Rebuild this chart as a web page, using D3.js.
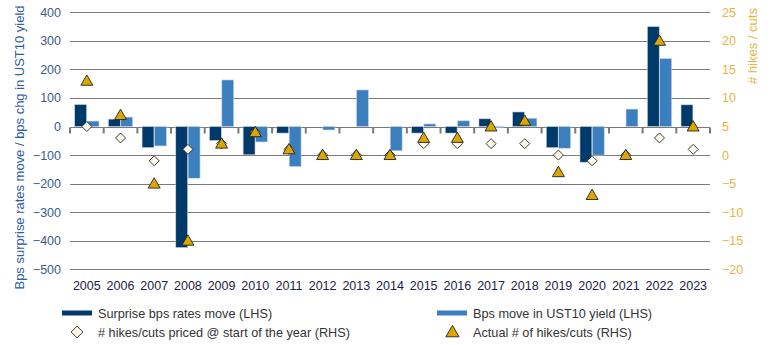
<!DOCTYPE html>
<html>
<head>
<meta charset="utf-8">
<script src="https://cdn.jsdelivr.net/npm/d3@7"></script>
<style>
  body { margin: 0; background: #fff; }
  text { font-family: "Liberation Sans", Arial, sans-serif; }
</style>
</head>
<body>
<svg id="chart"></svg>
<script>
const years = ["2005", "2006", "2007", "2008", "2009", "2010", "2011", "2012", "2013", "2014",
               "2015", "2016", "2017", "2018", "2019", "2020", "2021", "2022", "2023"];
// bps, left axis
const surprise = [77, 26, -74, -424, -49, -99, -23, 0, 0, 0, -23, -23, 27, 51, -74, -125, 0, 350, 76];
const ust10 = [19, 33, -68, -181, 163, -54, -140, -12, 128, -85, 9, 20, -3, 29, -76, -100, 61, 238, 0];
// number of hikes / cuts, right axis
const priced = [5, 3, -1, 1, 2, 4, 1, 0, 0, 0, 2, 2, 2, 2, 0, -1, 0, 3, 1];
const actual = [13, 7, -5, -15, 2, 4, 1, 0, 0, 0, 3, 3, 5, 6, -3, -7, 0, 20, 5];

const leftTicks = [400, 300, 200, 100, 0, -100, -200, -300, -400, -500];
const rightTicks = [25, 20, 15, 10, 5, 0, -5, -10, -15, -20];

const width = 770;
const height = 345;
const plotLeft = 70, plotRight = 710, plotTop = 12.3, plotBottom = 269.3;

const darkBlue = "#003a6a";
const lightBlue = "#3b7fbf";
const gold = "#dba700";
const gridColor = "#7a7a7a";

const svg = d3.select("#chart")
    .attr("width", width)
    .attr("height", height);

const x = d3.scaleBand()
    .domain(years)
    .range([plotLeft, plotRight])
    .paddingInner(0.25)
    .paddingOuter(0.125);
const x1 = d3.scaleBand()
    .domain(["surprise", "ust10"])
    .range([0, x.bandwidth()])
    .padding(0.04);
const yL = d3.scaleLinear().domain([-500, 400]).range([plotBottom, plotTop]);
const yR = d3.scaleLinear().domain([-20, 25]).range([plotBottom, plotTop]);

// gridlines
svg.append("g")
    .selectAll("line")
    .data(leftTicks)
    .enter()
    .append("line")
    .attr("x1", plotLeft)
    .attr("x2", plotRight)
    .attr("y1", d => Math.round(yL(d)) + 0.5)
    .attr("y2", d => Math.round(yL(d)) + 0.5)
    .attr("stroke", gridColor)
    .attr("stroke-width", 1);

// left axis labels
const yAxisL = d3.axisLeft(yL).tickValues(leftTicks).tickSize(0).tickPadding(0);
svg.append("g")
    .attr("transform", `translate(61,0)`)
    .call(yAxisL)
    .call(g => g.select(".domain").remove())
    .selectAll("text")
    .attr("fill", "#3d5a8c")
    .style("font-size", "12.5px")
    .style("font-family", "Liberation Sans, Arial, sans-serif");

// right axis labels
const yAxisR = d3.axisRight(yR).tickValues(rightTicks).tickSize(0).tickPadding(0);
svg.append("g")
    .attr("transform", `translate(722,0)`)
    .call(yAxisR)
    .call(g => g.select(".domain").remove())
    .selectAll("text")
    .attr("fill", "#e8b545")
    .style("font-size", "12.5px")
    .style("font-family", "Liberation Sans, Arial, sans-serif");

// axis titles
svg.append("text")
    .attr("transform", "translate(24,147.5) rotate(-90)")
    .attr("text-anchor", "middle")
    .attr("fill", "#2f5da3")
    .attr("textLength", 284)
    .attr("lengthAdjust", "spacingAndGlyphs")
    .style("font-size", "13px")
    .text("Bps surprise rates move / bps chg in UST10 yield");
svg.append("text")
    .attr("transform", "translate(757,46) rotate(-90)")
    .attr("text-anchor", "middle")
    .attr("fill", "#e8b545")
    .attr("textLength", 76)
    .attr("lengthAdjust", "spacingAndGlyphs")
    .style("font-size", "13px")
    .text("# hikes / cuts");

// bars
const bars = svg.append("g");
bars.selectAll(".surprise")
    .data(surprise)
    .enter()
    .append("rect")
    .attr("class", "surprise")
    .attr("x", (d, i) => x(years[i]) + x1("surprise"))
    .attr("y", d => yL(Math.max(0, d)))
    .attr("width", x1.bandwidth())
    .attr("height", d => Math.abs(yL(d) - yL(0)))
    .attr("fill", darkBlue)
    .attr("stroke", d => d === 0 ? "none" : "#c9d3df")
    .attr("stroke-width", 0.6);
bars.selectAll(".ust10")
    .data(ust10)
    .enter()
    .append("rect")
    .attr("class", "ust10")
    .attr("x", (d, i) => x(years[i]) + x1("ust10"))
    .attr("y", d => yL(Math.max(0, d)))
    .attr("width", x1.bandwidth())
    .attr("height", d => Math.abs(yL(d) - yL(0)))
    .attr("fill", lightBlue)
    .attr("stroke", d => d === 0 ? "none" : "#c9d3df")
    .attr("stroke-width", 0.6);

// x axis along zero with ticks at category boundaries
const zeroY = Math.round(yL(0)) + 0.5;
const boundaries = years.map(y => x(y) - x.step() * x.paddingInner() / 2);
boundaries.push(plotRight);
svg.append("g")
    .selectAll("line")
    .data(boundaries)
    .enter()
    .append("line")
    .attr("x1", d => d)
    .attr("x2", d => d)
    .attr("y1", zeroY)
    .attr("y2", zeroY + 6)
    .attr("stroke", gridColor)
    .attr("stroke-width", 2);

// year labels
svg.append("g")
    .selectAll("text")
    .data(years)
    .enter()
    .append("text")
    .attr("x", d => x(d) + x.bandwidth() / 2)
    .attr("y", 290)
    .attr("text-anchor", "middle")
    .attr("fill", "#1c2340")
    .style("font-size", "12.5px")
    .text(d => d);

// markers
const diamond = d3.symbol().type(d3.symbolSquare).size(50);
const triangle = d3.symbol().type(d3.symbolTriangle).size(62);

svg.append("g")
    .selectAll("path")
    .data(priced)
    .enter()
    .append("path")
    .attr("d", diamond)
    .attr("transform", (d, i) => `translate(${x(years[i]) + x.bandwidth() / 2},${yR(d)}) rotate(45)`)
    .attr("fill", "#fdf8e9")
    .attr("stroke", "#333")
    .attr("stroke-width", 0.9);

svg.append("g")
    .selectAll("path")
    .data(actual)
    .enter()
    .append("path")
    .attr("d", triangle)
    .attr("transform", (d, i) => `translate(${x(years[i]) + x.bandwidth() / 2},${yR(d) + 1})`)
    .attr("fill", gold)
    .attr("stroke", "#222")
    .attr("stroke-width", 0.9);

// legend
const legend = svg.append("g").style("font-size", "12.7px");
const legendItems = [
    { label: "Surprise bps rates move (LHS)", type: "bar", color: darkBlue, x: 62, y: 313 },
    { label: "Bps move in UST10 yield (LHS)", type: "bar", color: lightBlue, x: 437, y: 313 },
    { label: "# hikes/cuts priced @ start of the year (RHS)", type: "diamond", x: 62, y: 332 },
    { label: "Actual # of hikes/cuts (RHS)", type: "triangle", x: 437, y: 332 }
];
const legendSymbol = d3.symbol().type(d3.symbolSquare).size(70);
const legendTriangle = d3.symbol().type(d3.symbolTriangle).size(75);
legendItems.forEach(item => {
    if (item.type === "bar") {
        legend.append("rect")
            .attr("x", item.x)
            .attr("y", item.y - 2.5)
            .attr("width", 30)
            .attr("height", 5)
            .attr("fill", item.color);
    } else if (item.type === "diamond") {
        legend.append("path")
            .attr("d", legendSymbol)
            .attr("transform", `translate(${item.x + 15},${item.y}) rotate(45)`)
            .attr("fill", "#fdf8e9")
            .attr("stroke", "#333")
            .attr("stroke-width", 0.9);
    } else {
        legend.append("path")
            .attr("d", legendTriangle)
            .attr("transform", `translate(${item.x + 15.5},${item.y + 1})`)
            .attr("fill", gold)
            .attr("stroke", "#222")
            .attr("stroke-width", 0.9);
    }
    legend.append("text")
        .attr("x", item.x + 36)
        .attr("y", item.y + 4.5)
        .attr("fill", "#333")
        .text(item.label);
});
</script>
</body>
</html>
